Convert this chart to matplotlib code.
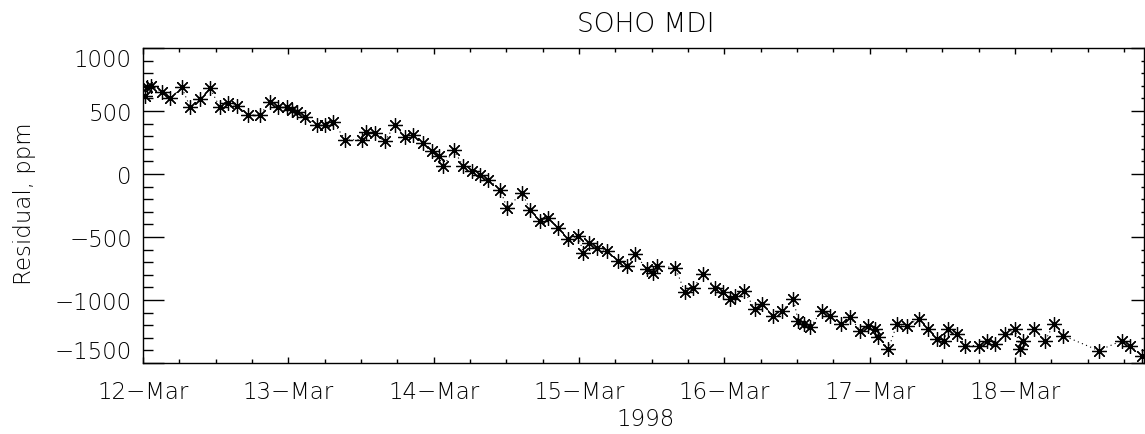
import datetime as dt
import matplotlib
matplotlib.use("Agg")
import matplotlib.pyplot as plt
import matplotlib.dates as mdates
from matplotlib.ticker import MultipleLocator, FuncFormatter

# ---- data (hours since 1998-03-12 00:00 UT, residual in ppm) ----
hours = [0.3, 0.6, 1.4, 3.1, 4.5, 6.4, 7.8, 9.4, 11.1, 12.7, 14.1, 15.5, 17.4, 19.3,
         21.0, 22.3, 23.7, 24.6, 25.4, 26.8, 28.7, 30.1, 31.4, 33.4, 36.1, 36.9, 38.3,
         39.9, 41.6, 43.3, 44.6, 46.3, 47.7, 48.8, 49.6, 51.3, 52.9, 54.3, 55.7, 57.0,
         59.0, 60.1, 62.6, 63.9, 65.6, 66.9, 68.6, 70.2, 71.9, 72.7, 73.6, 74.9, 76.6,
         78.5, 79.9, 81.3, 83.2, 84.3, 84.8, 87.9, 89.5, 90.9, 92.5, 94.5, 95.8, 97.0,
         97.8, 99.2, 101.1, 102.2, 104.1, 105.5, 107.4, 108.2, 109.1, 110.2, 112.1,
         113.5, 115.2, 116.8, 118.4, 119.8, 120.9, 121.4, 123.1, 124.5, 126.1, 128.1,
         129.7, 131.1, 132.2, 133.0, 134.4, 135.8, 138.0, 139.4, 140.7, 142.4, 144.0,
         144.9, 145.4, 147.1, 149.0, 150.4, 152.0, 157.8, 161.7, 163.0, 164.9]
residual = [620, 690, 700, 653, 600, 687, 529, 595, 679, 529, 561, 540, 468, 468,
            574, 529, 529, 508, 495, 455, 389, 389, 416, 271, 271, 337, 324,
            258, 389, 297, 310, 245, 179, 139, 60, 192, 60, 21, -6, -45,
            -124, -269, -150, -282, -374, -348, -427, -519, -493, -624, -545, -585, -611,
            -690, -730, -637, -756, -782, -730, -743, -940, -901, -796, -901, -940, -993,
            -967, -927, -1072, -1033, -1125, -1085, -993, -1164, -1191, -1217, -1085,
            -1125, -1191, -1138, -1243, -1204, -1230, -1296, -1388, -1191, -1204, -1151,
            -1230, -1309, -1322, -1230, -1270, -1362, -1362, -1322, -1349, -1270, -1230,
            -1388, -1322, -1230, -1322, -1191, -1283, -1401, -1322, -1362, -1441]

title = "SOHO MDI"
ylabel = "Residual, ppm"
xlabel = "1998"
y_ticks = [-1500, -1000, -500, 0, 500, 1000]

t0 = dt.datetime(1998, 3, 12)
times = [t0 + dt.timedelta(hours=h) for h in hours]

plt.rcParams['font.family'] = ['DejaVu Sans']
plt.rcParams['font.weight'] = 200
plt.rcParams['axes.unicode_minus'] = True

fig = plt.figure(figsize=(11.45, 4.35), dpi=100)
ax = fig.add_axes([143/1145, 1-364/435, (1144-143)/1145, (364-49)/435])

ax.plot(times, residual, color='black', linestyle=(0, (1, 3)), linewidth=0.8,
        marker=(8, 2, 0), markersize=10.5, markeredgewidth=0.9,
        markeredgecolor='black')

ax.set_xlim(t0, t0 + dt.timedelta(hours=165.3))
ax.set_ylim(-1500, 1000)

ax.xaxis.set_major_locator(mdates.DayLocator())
ax.xaxis.set_minor_locator(mdates.HourLocator(byhour=[6, 12, 18]))
ax.xaxis.set_major_formatter(FuncFormatter(
    lambda v, p: mdates.num2date(v).strftime('%d') + '\u2212' + mdates.num2date(v).strftime('%b')))

ax.set_yticks(y_ticks)
ax.yaxis.set_minor_locator(MultipleLocator(100))

for s in ax.spines.values():
    s.set_linewidth(1.0)

ax.tick_params(axis='x', which='major', direction='in', length=4.3, width=1.0,
               top=True, bottom=True, labelsize=16.5, pad=12)
ax.tick_params(axis='x', which='minor', direction='in', length=2.8, width=1.0,
               top=True, bottom=True)
ax.tick_params(axis='y', which='major', direction='in', length=15, width=1.0,
               left=True, right=False, labelsize=16.5, pad=8)
ax.tick_params(axis='y', which='minor', direction='in', length=7.5, width=1.0,
               left=True, right=False)

ax2 = ax.twinx()
ax2.set_ylim(-1500, 1000)
ax2.set_yticks(y_ticks)
ax2.yaxis.set_minor_locator(MultipleLocator(100))
ax2.tick_params(axis='y', which='major', direction='in', length=9.5, width=1.0,
                labelright=False)
ax2.tick_params(axis='y', which='minor', direction='in', length=2.2, width=1.0)
for s in ax2.spines.values():
    s.set_visible(False)

fig.canvas.draw()
labels = ax.get_yticklabels()
labels[0].set_verticalalignment('bottom')
labels[-1].set_verticalalignment('top')

fig.text(646/1145, 1-25/435, title, ha='center', va='center', fontsize=19)
fig.text(25/1145, 1-204/435, ylabel, ha='center', va='center', rotation=90, fontsize=16.5)
fig.text(646/1145, 1-420/435, xlabel, ha='center', va='center', fontsize=16.5)

fig.savefig('out.png', dpi=100)
